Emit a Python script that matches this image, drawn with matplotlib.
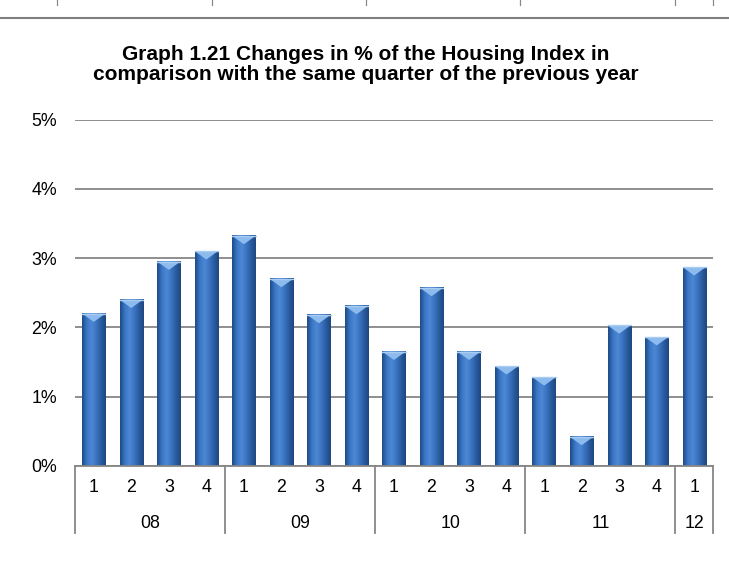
import numpy as np
import matplotlib
matplotlib.use("Agg")
import matplotlib.pyplot as plt
from matplotlib.colors import LinearSegmentedColormap
import matplotlib.transforms as mtransforms

# data
quarters = ["1", "2", "3", "4", "1", "2", "3", "4", "1", "2", "3", "4",
            "1", "2", "3", "4", "1"]
years = ["08", "09", "10", "11", "12"]
year_sizes = [4, 4, 4, 4, 1]
values = [2.20, 2.40, 2.95, 3.10, 3.32, 2.70, 2.18, 2.31, 1.65, 2.57,
          1.65, 1.44, 1.28, 0.42, 2.03, 1.86, 2.87]
yticks = [0, 1, 2, 3, 4, 5]

plt.rcParams["font.family"] = ["Liberation Sans", "DejaVu Sans"]

W, H = 729, 586
fig = plt.figure(figsize=(W / 100, H / 100), dpi=100)
ax = fig.add_axes([75 / W, (H - 466) / H, (713 - 75) / W, (466 - 119.5) / H])

grey = "#868686"
x = np.arange(len(values))
bw = 0.62

# bars, then a cylinder-like shading painted over each one
bars = ax.bar(x, values, width=bw, color="#3A70BE", zorder=2)
cmap = LinearSegmentedColormap.from_list(
    "cyl", ["#1E4A86", "#3A76C6", "#4C88D4", "#3A74C2", "#2A5CA0", "#1D4680"])
grad = np.linspace(0, 1, 64).reshape(1, -1)
for b in bars:
    x0, w, h = b.get_x(), b.get_width(), b.get_height()
    ax.imshow(grad, extent=[x0, x0 + w, 0, h], cmap=cmap, aspect="auto",
              zorder=3, interpolation="bicubic")
    cap = 0.12
    ax.fill([x0, x0 + w, x0 + w / 2], [h, h, h - cap], color="#8DBBEE",
            zorder=4, lw=0)
    ax.plot([x0, x0 + w], [h, h], color="#A9CCF2", lw=1.0, zorder=4)

ax.set_xlim(-0.5, len(values) - 0.5)
ax.set_ylim(0, 5)
ax.set_yticks(yticks)
ax.set_yticklabels([f"{t}%" for t in yticks], fontsize=12.8)
ax.tick_params(axis="y", length=0, pad=13)
ax.set_xticks([])
ax.yaxis.grid(True, color=grey, lw=1.3, zorder=1)
ax.set_axisbelow(True)
for s in ["left", "right", "top"]:
    ax.spines[s].set_visible(False)
ax.spines["bottom"].set_color(grey)
ax.spines["bottom"].set_linewidth(1.3)
ax.spines["bottom"].set_zorder(5)

# two level category axis
trans = mtransforms.blended_transform_factory(ax.transData, ax.transAxes)
ppx = 1 / (466 - 119.5)
for i, q in enumerate(quarters):
    ax.text(i, -22 * ppx, q, transform=trans, ha="center", va="center",
            fontsize=12.8)
edges = np.concatenate([[0], np.cumsum(year_sizes)]) - 0.5
for e in edges:
    ax.plot([e, e], [0, -67 * ppx], transform=trans, color=grey, lw=1.3,
            clip_on=False)
for yr, a, b in zip(years, edges[:-1], edges[1:]):
    ax.text((a + b) / 2, -57 * ppx, yr, transform=trans, ha="center",
            va="center", fontsize=12.8)

# title
fig.text(0.502, 1 - 59.5 / H, "Graph 1.21 Changes in % of the Housing Index in",
         ha="center", va="baseline", fontsize=15, fontweight="bold")
fig.text(0.502, 1 - 79.5 / H, "comparison with the same quarter of the previous year",
         ha="center", va="baseline", fontsize=15, fontweight="bold")

# remnants of the table border above the chart
fig.add_artist(plt.Line2D([0, 1], [1 - 17.5 / H] * 2, color="#7F7F7F", lw=1.5))
for px in [57, 212, 366, 520, 675, 713]:
    fig.add_artist(plt.Line2D([px / W] * 2, [1, 1 - 4.5 / H], color="#8A8A8A",
                              lw=0.9))

fig.savefig("out.png", dpi=100)
